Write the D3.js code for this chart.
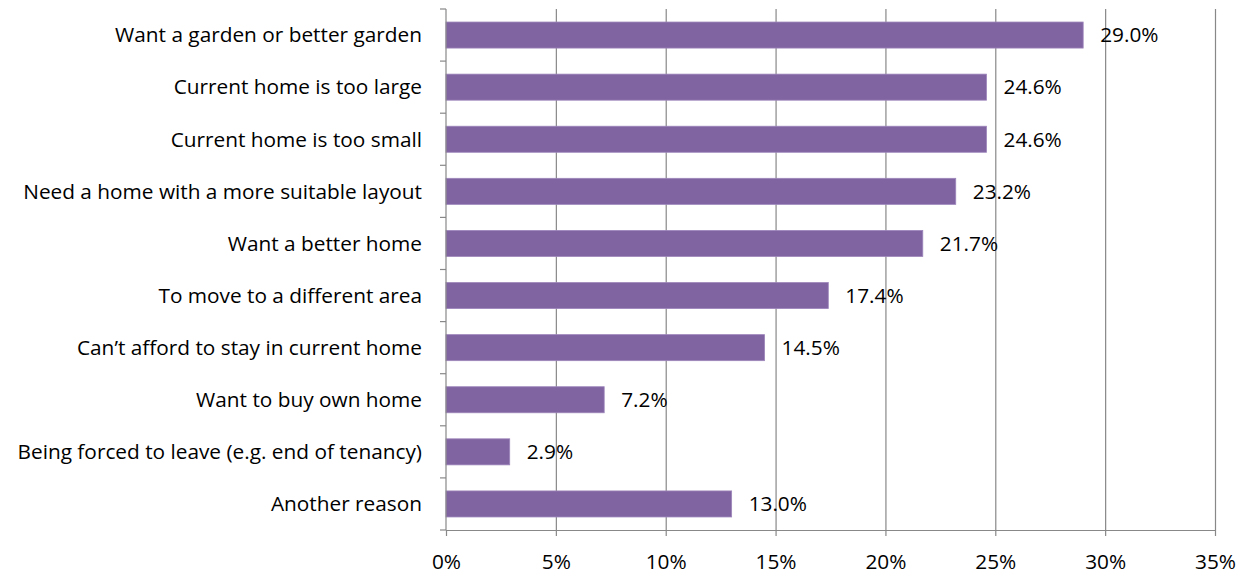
<!DOCTYPE html>
<html>
<head>
<meta charset="utf-8">
<script src="https://cdn.jsdelivr.net/npm/d3@7"></script>
<style>
  html, body { margin: 0; padding: 0; background: #fff; }
  svg { display: block; }
  text { font-family: "Open Sans", sans-serif; fill: #000; }
</style>
</head>
<body>
<svg id="chart" width="1250" height="574"></svg>
<script>
// Reasons for wanting to move (share of respondents, %)
const categories = [
  "Want a garden or better garden",
  "Current home is too large",
  "Current home is too small",
  "Need a home with a more suitable layout",
  "Want a better home",
  "To move to a different area",
  "Can\u2019t afford to stay in current home",
  "Want to buy own home",
  "Being forced to leave (e.g. end of tenancy)",
  "Another reason"
];
const values = [29.0, 24.6, 24.6, 23.2, 21.7, 17.4, 14.5, 7.2, 2.9, 13.0];
const xTicks = [0, 5, 10, 15, 20, 25, 30, 35];

const FONT = "'Open Sans', sans-serif";
const FS = 20.8;

const svg = d3.select("#chart");
const margin = { left: 446, right: 35, top: 9, bottom: 44 };
const W = 1250, H = 574;

const x = d3.scaleLinear().domain([0, 35]).range([margin.left, W - margin.right]);
const y = d3.scaleBand().domain(categories).range([margin.top, H - margin.bottom]).paddingInner(0.5).paddingOuter(0.25);
const yTicks = d3.scaleBand().domain(categories).range([margin.top, H - margin.bottom]);

const axisColor = "#888888";

// vertical gridlines
svg.append("g")
  .selectAll("line")
  .data(xTicks.slice(1))
  .join("line")
  .attr("x1", d => x(d) + 0.5).attr("x2", d => x(d) + 0.5)
  .attr("y1", margin.top).attr("y2", H - margin.bottom)
  .attr("stroke", axisColor).attr("stroke-width", 1.2);

// bars
svg.append("g")
  .selectAll("rect")
  .data(values)
  .join("rect")
  .attr("x", x(0))
  .attr("y", (d, i) => y(categories[i]))
  .attr("width", d => x(d) - x(0))
  .attr("height", y.bandwidth())
  .attr("fill", "#8064A2")
  .attr("stroke", "#9d86bb")
  .attr("stroke-width", 0.8);

// value labels
svg.append("g")
  .selectAll("text")
  .data(values)
  .join("text")
  .attr("x", d => x(d) + 17)
  .attr("y", (d, i) => y(categories[i]) + y.bandwidth() / 2)
  .attr("dy", "0.35em")
  .attr("font-size", FS)
  .text(d => d.toFixed(1) + "%");

// x axis
const xAxis = d3.axisBottom(x).tickValues(xTicks).tickFormat(d => d + "%").tickSize(6).tickSizeOuter(0);
const gx = svg.append("g").attr("transform", `translate(0,${H - margin.bottom})`).call(xAxis);
gx.select(".domain").attr("stroke", axisColor).attr("stroke-width", 1.2);
gx.selectAll(".tick line").attr("stroke", axisColor).attr("stroke-width", 1.2);
gx.selectAll(".tick text").attr("font-size", FS).attr("y", 24).attr("dy", "0.71em").attr("font-family", FONT).attr("fill", "#000");

// y axis: tick marks at band boundaries, labels at band centres
const gy = svg.append("g");
gy.append("line")
  .attr("x1", x(0)).attr("x2", x(0))
  .attr("y1", margin.top).attr("y2", H - margin.bottom)
  .attr("stroke", axisColor).attr("stroke-width", 1.2);
const bounds = categories.map(c => yTicks(c)).concat([H - margin.bottom]);
gy.selectAll("line.tk")
  .data(bounds)
  .join("line")
  .attr("class", "tk")
  .attr("x1", x(0) - 6).attr("x2", x(0))
  .attr("y1", d => d).attr("y2", d => d)
  .attr("stroke", axisColor).attr("stroke-width", 1.2);
gy.selectAll("text")
  .data(categories)
  .join("text")
  .attr("x", x(0) - 24)
  .attr("y", d => yTicks(d) + yTicks.bandwidth() / 2)
  .attr("dy", "0.35em")
  .attr("text-anchor", "end")
  .attr("font-size", FS)
  .text(d => d);
</script>
</body>
</html>
